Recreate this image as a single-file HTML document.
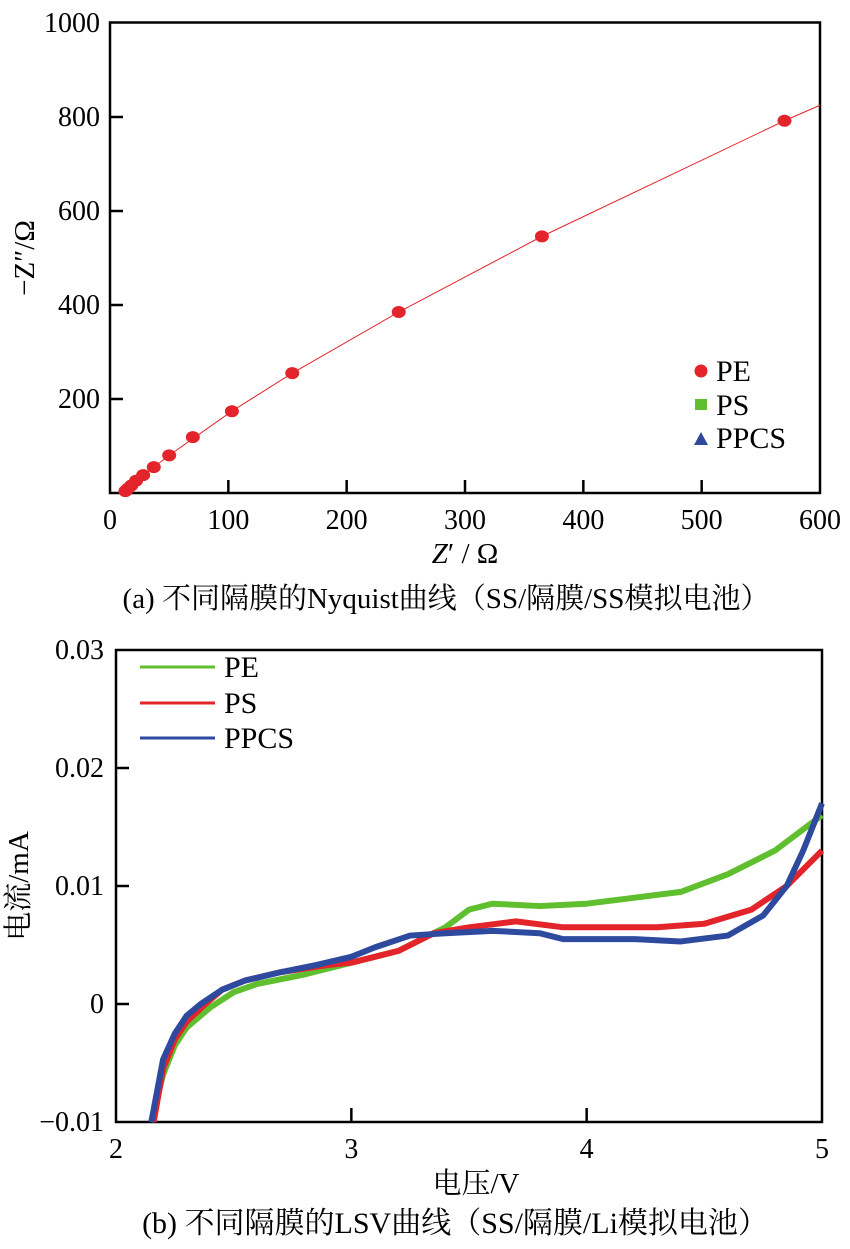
<!DOCTYPE html>
<html><head><meta charset="utf-8"><style>
body{margin:0;background:#fff}
svg{display:block;font-family:"Liberation Serif","Noto Serif CJK SC",serif}
</style></head><body>
<svg width="850" height="1249" viewBox="0 0 850 1249">
<g id="ga"></g>
<g id="gb"></g>
</svg>
<script>
const NS="http://www.w3.org/2000/svg";
// Chart A data
const nyqX=[13,15,18,22,28,37,50,70,103,154,244,365,570];
const nyqY=[4,9,16,26,38,55,80,119,174,255,385,546,792];
const nyqFitX=[10,13,22,50,103,154,244,365,570,600];
const nyqFitY=[0,4,26,80,174,255,385,546,792,825];
const aXTicks=[0,100,200,300,400,500,600];
const aYTicks=[200,400,600,800,1000];
// Chart B data
const peV=[2.15,2.2,2.25,2.3,2.4,2.5,2.6,2.8,3.0,3.2,3.3,3.4,3.5,3.6,3.8,4.0,4.2,4.4,4.6,4.8,5.0];
const peI=[-0.01,-0.006,-0.0035,-0.002,-0.0003,0.001,0.0017,0.0025,0.0035,0.0045,0.0055,0.0065,0.008,0.0085,0.0083,0.0085,0.009,0.0095,0.011,0.013,0.016];
const psV=[2.16,2.2,2.25,2.3,2.38,2.45,2.55,2.7,2.9,3.0,3.2,3.35,3.5,3.7,3.9,4.1,4.3,4.5,4.7,4.85,5.0];
const psI=[-0.01,-0.0055,-0.003,-0.0015,0,0.0012,0.002,0.0027,0.0033,0.0035,0.0045,0.006,0.0065,0.007,0.0065,0.0065,0.0065,0.0068,0.008,0.01,0.013];
const ppV=[2.15,2.2,2.25,2.3,2.36,2.45,2.55,2.7,2.85,3.0,3.1,3.25,3.4,3.6,3.8,3.9,4.0,4.2,4.4,4.6,4.75,4.85,4.92,5.0];
const ppI=[-0.01,-0.0047,-0.0025,-0.001,0,0.0012,0.002,0.0027,0.0033,0.004,0.0048,0.0058,0.006,0.0062,0.006,0.0055,0.0055,0.0055,0.0053,0.0058,0.0075,0.01,0.013,0.017];
const bXTicks=[2,3,4,5];
const bYTicks=[-0.01,0,0.01,0.02,0.03];
const bYLabels=["\u22120.01","0","0.01","0.02","0.03"];

function el(p,t,a,txt){const e=document.createElementNS(NS,t);for(const k in a)e.setAttribute(k,a[k]);if(txt!==undefined)e.textContent=txt;p.appendChild(e);return e;}

// Chart A
const ga=document.getElementById('ga');
const ax=v=>110+v*(710/600), ay=v=>493-v*0.47;
el(ga,'rect',{x:110,y:22.5,width:710,height:470.5,fill:'none',stroke:'#000','stroke-width':2.5,});
aXTicks.forEach(t=>{const g=el(ga,'g',{});
 if(t>0&&t<600)el(g,'line',{x1:ax(t),x2:ax(t),y1:493,y2:480,stroke:'#000','stroke-width':2.5});
 el(g,'text',{x:ax(t),y:529,'font-size':28,'text-anchor':'middle'},t);});
aYTicks.forEach(t=>{const g=el(ga,'g',{});
 if(t<1000)el(g,'line',{x1:110,x2:123,y1:ay(t),y2:ay(t),stroke:'#000','stroke-width':2.5});
 el(g,'text',{x:100,y:ay(t)+9,'font-size':28,'text-anchor':'end'},t);});
el(ga,'polyline',{points:nyqFitX.map((x,i)=>ax(x)+','+ay(nyqFitY[i])).join(' '),fill:'none',stroke:'#e3242b','stroke-width':1,});
nyqX.forEach((x,i)=>{const c=el(ga,'ellipse',{cx:ax(x),cy:ay(nyqY[i]),rx:7,ry:6,fill:'#e3242b'});});
el(ga,'text',{x:465,y:563,'font-size':29,'text-anchor':'middle',}).innerHTML='<tspan font-style="italic">Z</tspan>\u2032 / \u03a9';
el(ga,'text',{x:0,y:0,'font-size':29,'text-anchor':'middle',transform:'translate(34,258) rotate(-90)',},'\u2212Z\u2033/\u03a9');
const la=el(ga,'g',{});
el(la,'circle',{cx:701,cy:371,r:6.5,fill:'#e3242b'});el(la,'text',{x:716,y:381,'font-size':30},'PE');
el(la,'rect',{x:695,y:399,width:12,height:11,fill:'#5fbf2f'});el(la,'text',{x:716,y:415,'font-size':30},'PS');
el(la,'polygon',{points:'694,445 701,432 708,445',fill:'#2d4a9e'});el(la,'text',{x:716,y:448,'font-size':30},'PPCS');
el(ga,'text',{x:446,y:608,'font-size':29,'text-anchor':'middle',},'(a) 不同隔膜的Nyquist曲线（SS/隔膜/SS模拟电池）');

// Chart B
const gb=document.getElementById('gb');
const bx=v=>116+(v-2)*(706/3), by=v=>1004-v*11800;
el(gb,'rect',{x:116,y:650,width:706,height:472,fill:'none',stroke:'#000','stroke-width':2.5,});
bXTicks.forEach(t=>{const g=el(gb,'g',{});
 if(t>2&&t<5)el(g,'line',{x1:bx(t),x2:bx(t),y1:1122,y2:1108,stroke:'#000','stroke-width':2.5});
 el(g,'text',{x:bx(t),y:1158,'font-size':28,'text-anchor':'middle'},t);});
bYTicks.forEach((t,i)=>{const g=el(gb,'g',{});
 if(i>0&&i<4)el(g,'line',{x1:116,x2:129,y1:by(t),y2:by(t),stroke:'#000','stroke-width':2.5});
 el(g,'text',{x:104,y:by(t)+9,'font-size':28,'text-anchor':'end'},bYLabels[i]);});
const series=[[peV,peI,'#5fbf2f','pe-curve'],[psV,psI,'#e3242b','ps-curve'],[ppV,ppI,'#2d4a9e','ppcs-curve']];
series.forEach(s=>{const p=el(gb,'polyline',{points:s[0].map((v,i)=>bx(v)+','+by(s[1][i])).join(' '),fill:'none',stroke:s[2],'stroke-width':6,'stroke-linejoin':'round'});
 });
const lb=el(gb,'g',{});
[['PE','#5fbf2f',667],['PS','#e3242b',703],['PPCS','#2d4a9e',738]].forEach(r=>{
 el(lb,'line',{x1:140,x2:215,y1:r[2],y2:r[2],stroke:r[1],'stroke-width':3});
 el(lb,'text',{x:224,y:r[2]+10,'font-size':30},r[0]);});
el(gb,'text',{x:476,y:1193,'font-size':29,'text-anchor':'middle',},'电压/V');
el(gb,'text',{x:0,y:0,'font-size':29,'text-anchor':'middle',transform:'translate(28,886) rotate(-90)',},'电流/mA');
el(gb,'text',{x:455,y:1233,'font-size':30,'text-anchor':'middle',},'(b) 不同隔膜的LSV曲线（SS/隔膜/Li模拟电池）');
</script>
</body></html>
